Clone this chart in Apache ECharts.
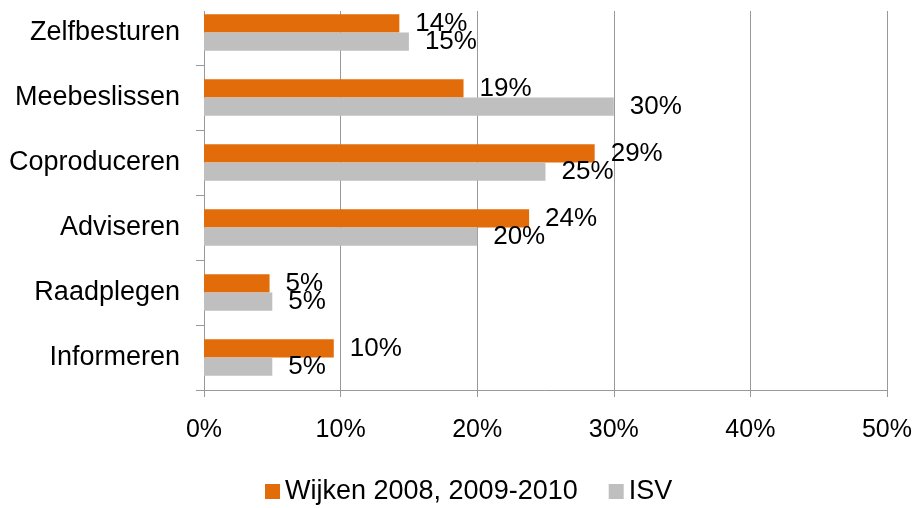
<!DOCTYPE html>
<html>
<head>
<meta charset="utf-8">
<script src="https://cdn.jsdelivr.net/npm/echarts@6/dist/echarts.min.js"></script>
<style>
html,body{margin:0;padding:0;background:#fff;}
#chart{width:915px;height:508px;}
</style>
</head>
<body>
<div id="chart"></div>
<script>
var categories = ['Zelfbesturen', 'Meebeslissen', 'Coproduceren', 'Adviseren', 'Raadplegen', 'Informeren'];
var seriesNames = ['Wijken 2008, 2009-2010', 'ISV'];
var wijkenValues = [14.3, 19.0, 28.6, 23.8, 4.8, 9.5];
var isvValues = [15, 30, 25, 20, 5, 5];
var xTicks = [0, 10, 20, 30, 40, 50];

var FONT = '"Liberation Sans", Arial, sans-serif';
var chart = echarts.init(document.getElementById('chart'), null, {renderer: 'canvas'});

function lbl(p) { return Math.round(p.value) + '%'; }

chart.setOption({
  animation: false,
  backgroundColor: '#ffffff',
  textStyle: {fontFamily: FONT},
  grid: {left: 204, right: 28, top: -3, bottom: 118, containLabel: false},
  legend: {
    left: 265, top: 478, padding: 0,
    itemWidth: 15, itemHeight: 15, itemGap: 31,
    icon: 'rect',
    textStyle: {fontSize: 27, color: '#000', fontFamily: FONT},
    data: seriesNames
  },
  xAxis: {
    type: 'value',
    min: xTicks[0], max: xTicks[xTicks.length - 1], interval: 10,
    axisLine: {show: true, lineStyle: {color: '#999999', width: 1}},
    axisTick: {show: true, length: 7, lineStyle: {color: '#999999'}},
    splitLine: {show: true, lineStyle: {color: '#999999', width: 1}},
    axisLabel: {fontSize: 25, color: '#000', margin: 28, fontFamily: FONT,
      formatter: function (v) { return v + '%'; }}
  },
  yAxis: {
    type: 'category',
    inverse: true,
    data: categories,
    axisLine: {show: true, lineStyle: {color: '#999999', width: 1}},
    axisTick: {show: true, length: 8, alignWithLabel: false, lineStyle: {color: '#999999'}},
    axisLabel: {fontSize: 27, color: '#000', margin: 24, fontFamily: FONT}
  },
  graphic: [{
    type: 'rect', z: 100, silent: true,
    shape: {x: 190, y: 0, width: 725, height: 11},
    style: {fill: '#ffffff'}
  }],
  series: [{
    name: seriesNames[0],
    type: 'bar',
    data: wijkenValues,
    barGap: '0%',
    barCategoryGap: '44%',
    itemStyle: {color: '#E36C0A'},
    label: {show: true, position: 'right', distance: 16, fontSize: 26, color: '#000',
      fontFamily: FONT, formatter: lbl}
  }, {
    name: seriesNames[1],
    type: 'bar',
    data: isvValues,
    barGap: '0%',
    barCategoryGap: '44%',
    itemStyle: {color: '#BFBFBF'},
    label: {show: true, position: 'right', distance: 16, fontSize: 26, color: '#000',
      fontFamily: FONT, formatter: lbl}
  }]
});
</script>
</body>
</html>
